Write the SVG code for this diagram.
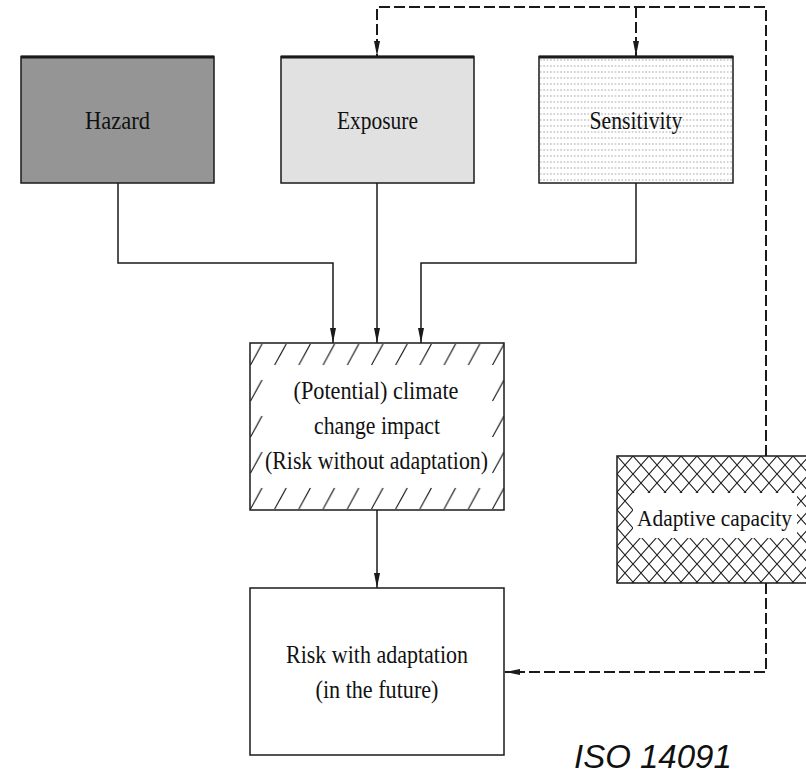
<svg xmlns="http://www.w3.org/2000/svg" width="806" height="778" viewBox="0 0 806 778">
<style>
.box{stroke:#1a1a1a;stroke-width:1.5}
.lbl{font-family:"Liberation Serif","Times New Roman",serif;font-size:26px;fill:#111;text-anchor:middle}
.con{fill:none;stroke:#1a1a1a;stroke-width:1.5}
.dash{fill:none;stroke:#1a1a1a;stroke-width:2;stroke-dasharray:11 4}
.topedge{stroke:#1a1a1a;stroke-width:3}
</style>
<defs>
<marker id="arr" markerUnits="userSpaceOnUse" markerWidth="15" markerHeight="8" refX="15" refY="3" orient="auto">
<path d="M0,0 L15,3 L0,6 z" fill="#1a1a1a"/>
</marker>
<pattern id="dots" patternUnits="userSpaceOnUse" x="539" y="57" width="3.4" height="6">
<rect x="1.2" y="2.5" width="1" height="1" fill="#6a6a6a"/>
</pattern>
<pattern id="slash" patternUnits="userSpaceOnUse" x="250" y="343" width="24.2" height="36">
<line x1="0.5" y1="22" x2="12" y2="1" stroke="#1a1a1a" stroke-width="1.2"/>
</pattern>
<pattern id="cross" patternUnits="userSpaceOnUse" x="617" y="456" width="16" height="18">
<path d="M0,0 L16,18 M16,0 L0,18" stroke="#1a1a1a" stroke-width="1.1" fill="none"/>
</pattern>
</defs>
<rect width="806" height="778" fill="#ffffff"/>

<g id="connectors">
<path class="con" d="M118,183 V263 H333 V343" marker-end="url(#arr)"/>
<path class="con" d="M377,183 V343" marker-end="url(#arr)"/>
<path class="con" d="M636,183 V263 H421 V343" marker-end="url(#arr)"/>
<path class="con" d="M377,510 V588" marker-end="url(#arr)"/>
<path class="dash" d="M766,456 V7 H377 V56" marker-end="url(#arr)"/>
<path class="dash" d="M636,7 V56" marker-end="url(#arr)"/>
<path class="dash" d="M766,583 V672 H505" marker-end="url(#arr)"/>
</g>

<g id="hazard">
<rect class="box" x="21" y="56.5" width="193" height="126.5" fill="#959595"/>
<line class="topedge" x1="21" y1="57" x2="214" y2="57"/>
<text class="lbl" x="117.5" y="129" textLength="65" lengthAdjust="spacingAndGlyphs">Hazard</text>
</g>

<g id="exposure">
<rect class="box" x="281" y="56.5" width="193" height="126.5" fill="#e1e1e1"/>
<line class="topedge" x1="281" y1="57" x2="474" y2="57"/>
<text class="lbl" x="377.5" y="129" textLength="81" lengthAdjust="spacingAndGlyphs">Exposure</text>
</g>

<g id="sensitivity">
<rect x="539" y="56.5" width="194" height="126.5" fill="#ffffff"/>
<rect x="539" y="56.5" width="194" height="126.5" fill="url(#dots)"/>
<rect class="box" x="539" y="56.5" width="194" height="126.5" fill="none"/>
<line class="topedge" x1="539" y1="57" x2="733" y2="57"/>
<text class="lbl" x="636" y="129" textLength="93" lengthAdjust="spacingAndGlyphs">Sensitivity</text>
</g>

<g id="impact">
<rect x="250" y="343" width="254" height="167" fill="#ffffff"/>
<rect x="250" y="343" width="254" height="167" fill="url(#slash)"/>
<rect x="263" y="367" width="228" height="113" fill="#ffffff"/>
<rect class="box" x="250" y="343" width="254" height="167" fill="none"/>
<text class="lbl" x="376" y="399" textLength="165" lengthAdjust="spacingAndGlyphs">(Potential) climate</text>
<text class="lbl" x="377" y="434" textLength="126" lengthAdjust="spacingAndGlyphs">change impact</text>
<text class="lbl" x="376.5" y="469" textLength="223" lengthAdjust="spacingAndGlyphs">(Risk without adaptation)</text>
</g>

<g id="risk">
<rect class="box" x="250" y="588" width="254" height="167" fill="#ffffff"/>
<text class="lbl" x="377" y="663" textLength="182" lengthAdjust="spacingAndGlyphs">Risk with adaptation</text>
<text class="lbl" x="377" y="698" textLength="123" lengthAdjust="spacingAndGlyphs">(in the future)</text>
</g>

<g id="adaptive">
<rect x="617" y="456" width="189" height="127" fill="#ffffff"/>
<rect x="617" y="456" width="189" height="127" fill="url(#cross)"/>
<rect x="633" y="493" width="164" height="45" fill="#ffffff"/>
<path class="box" d="M806,456 H617 V583 H806" fill="none"/>
<text class="lbl" x="714.5" y="526" font-size="24" style="font-size:24px" textLength="155" lengthAdjust="spacingAndGlyphs">Adaptive capacity</text>
</g>

<text x="574" y="768" font-family="'Liberation Sans',Arial,sans-serif" font-style="italic" font-size="33" fill="#111">ISO 14091</text>
</svg>
